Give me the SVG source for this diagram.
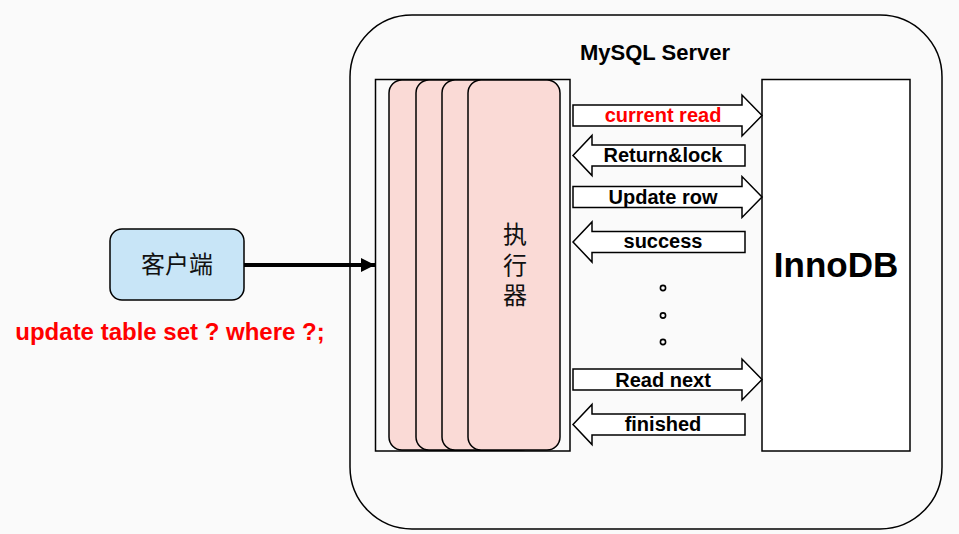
<svg xmlns="http://www.w3.org/2000/svg" width="959" height="534" viewBox="0 0 959 534">
<defs>
<style>
.ln{stroke:#000;stroke-width:1.5;}
.pink{fill:#fadad6;stroke:#000;stroke-width:1.5;}
.blk{fill:#fff;stroke:#000;stroke-width:1.5;}
.lbl{font-family:"Liberation Sans",Arial,sans-serif;font-weight:bold;font-size:20px;text-anchor:middle;fill:#000;}
.cjk{font-family:"Noto Sans CJK SC","Noto Sans",sans-serif;text-anchor:middle;fill:#111;}
</style>
<marker id="ah" markerWidth="14" markerHeight="14" refX="14" refY="7" orient="auto" markerUnits="userSpaceOnUse">
<path d="M0,0 L14,7 L0,14 Z" fill="#000"/>
</marker>
</defs>
<rect width="959" height="534" fill="#fafafa"/>

<g id="mysql-server">
<rect x="350" y="15" width="592" height="514" rx="62" ry="62" fill="#fafafa" class="ln"/>
<text x="655" y="60" class="lbl" style="font-size:22px">MySQL Server</text>
</g>

<g id="executor">
<rect x="375.5" y="79.5" width="194.5" height="371.5" fill="#fafafa" class="ln"/>
<rect x="389" y="80" width="92" height="370" rx="13" class="pink"/>
<rect x="416" y="80" width="92" height="370" rx="13" class="pink"/>
<rect x="442" y="80" width="92" height="370" rx="13" class="pink"/>
<rect x="468" y="80" width="92" height="370" rx="13" class="pink"/>
<text x="515" y="268" class="cjk" writing-mode="vertical-rl" style="font-size:24px;letter-spacing:6.5px">执行器</text>
</g>

<g id="innodb">
<rect x="762" y="79.5" width="148" height="371.5" fill="#fff" class="ln"/>
<text x="836" y="277" class="lbl" style="font-size:35px">InnoDB</text>
</g>

<g id="client">
<rect x="110" y="229" width="134" height="71" rx="12" fill="#c8e5f7" class="ln"/>
<text x="177" y="273" class="cjk" style="font-size:24px">客户端</text>
</g>

<g id="sql-label">
<text x="170" y="340" class="lbl" style="font-size:24px;fill:#f00">update table set ? where ?;</text>
</g>

<g id="messages">
<g id="msg-current-read">
<path d="M573,105 H742 V95 L762,115.5 L742,136 V126 H573 Z" class="blk"/>
<text x="663" y="122" class="lbl" style="fill:#f00">current read</text>
</g>
<g id="msg-return-lock">
<path d="M573,155.5 L592,135.5 V145 H745 V166 H592 V175.5 Z" class="blk"/>
<text x="663" y="162" class="lbl">Return&amp;lock</text>
</g>
<g id="msg-update-row">
<path d="M573,186.5 H742 V176.5 L762,197 L742,217.5 V207.5 H573 Z" class="blk"/>
<text x="663" y="203.5" class="lbl">Update row</text>
</g>
<g id="msg-success">
<path d="M573,242 L592,222 V231.5 H745 V252.5 H592 V262 Z" class="blk"/>
<text x="663" y="247.5" class="lbl">success</text>
</g>
<g id="ellipsis">
<circle cx="663" cy="288" r="2.6" fill="none" stroke="#000" stroke-width="1.6"/>
<circle cx="663" cy="315.5" r="2.6" fill="none" stroke="#000" stroke-width="1.6"/>
<circle cx="663" cy="342" r="2.6" fill="none" stroke="#000" stroke-width="1.6"/>
</g>
<g id="msg-read-next">
<path d="M573,369 H742 V359 L762,379.5 L742,400 V390 H573 Z" class="blk"/>
<text x="663" y="386.5" class="lbl">Read next</text>
</g>
<g id="msg-finished">
<path d="M573,424.5 L592,404.5 V414 H745 V435 H592 V444.5 Z" class="blk"/>
<text x="663" y="431" class="lbl">finished</text>
</g>
</g>

<g id="connectors">
<line x1="244" y1="265" x2="375" y2="265" stroke="#000" stroke-width="4" marker-end="url(#ah)"/>
</g>
</svg>
